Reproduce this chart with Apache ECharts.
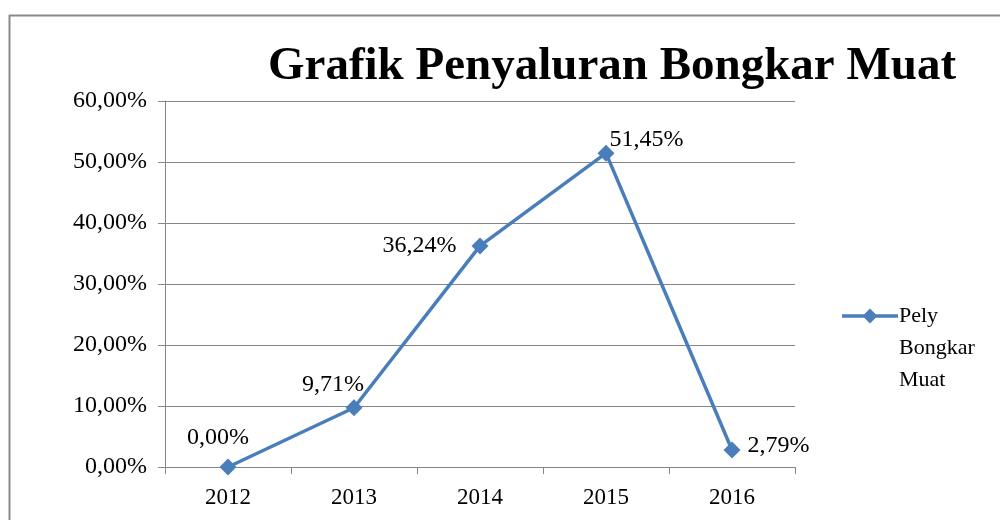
<!DOCTYPE html>
<html><head><meta charset="utf-8">
<script src="https://cdn.jsdelivr.net/npm/echarts@6/dist/echarts.min.js"></script>
<style>html,body{margin:0;padding:0;background:#fff}#c{width:1000px;height:520px}</style>
</head><body><div id="c"></div>
<script>
const categories = ['2012','2013','2014','2015','2016'];
const values = [0, 9.71, 36.24, 51.45, 2.79];
const seriesName = 'Pely\nBongkar\nMuat';
const titleText = 'Grafik Penyaluran Bongkar Muat';
const labelPos = [
  {position:'top', offset:[-10,-4]},
  {position:'top', offset:[-21,2]},
  {position:'left', offset:[-10,0]},
  {position:'right', offset:[-10,-13]},
  {position:'right', offset:[2,-4]}
];
const fmt = v => v.toFixed(2).replace('.', ',') + '%';
const serif = '"Liberation Serif","Times New Roman",serif';
const chart = echarts.init(document.getElementById('c'));
chart.setOption({
  animation:false,
  title:{text:titleText,left:607,top:38,textAlign:'center',
    textStyle:{fontFamily:serif,fontWeight:'bold',fontSize:47,color:'#000'}},
  graphic:[
    {type:'line',shape:{x1:9.5,y1:15,x2:9.5,y2:520},style:{stroke:'#8a8a8a',lineWidth:2}},
    {type:'line',shape:{x1:9,y1:15.5,x2:1000,y2:15.5},style:{stroke:'#8a8a8a',lineWidth:2}}
  ],
  legend:{left:842,top:300,padding:0,orient:'vertical',itemWidth:56,itemHeight:96,itemGap:4,
    symbolKeepAspect:false,
    textStyle:{fontFamily:serif,fontSize:22,color:'#000',lineHeight:32,padding:[0,0,0,-4]},
    data:[{name:seriesName,icon:'path://M0,0 L0.01,0 L0,0.01 Z M0,96 L0.01,96 L0,95.99 Z M0,14.3 L56,14.3 L56,17.7 L0,17.7 Z M28,8.5 L35.5,16 L28,23.5 L20.5,16 Z'}]},
  grid:{left:165,right:205,top:101,bottom:53},
  xAxis:{type:'category',data:categories,boundaryGap:true,
    axisLine:{lineStyle:{color:'#868686',width:1}},
    axisTick:{show:true,length:7,alignWithLabel:false,lineStyle:{color:'#868686'}},
    axisLabel:{fontFamily:serif,fontSize:23,color:'#000',margin:19}},
  yAxis:{type:'value',min:0,max:60,interval:10,
    axisLine:{show:true,lineStyle:{color:'#868686',width:1}},
    axisTick:{show:true,length:7,lineStyle:{color:'#868686'}},
    splitLine:{lineStyle:{color:'#868686',width:1}},
    axisLabel:{fontFamily:serif,fontSize:24,color:'#000',margin:18,formatter:v=>fmt(v)}},
  series:[{name:seriesName,type:'line',data:values.map((v,i)=>({value:v,label:labelPos[i]})),
    symbol:'diamond',symbolSize:17,
    lineStyle:{color:'#4a7ebb',width:3.5},
    itemStyle:{color:'#4a7ebb'},
    label:{show:true,fontFamily:serif,fontSize:24,color:'#000',formatter:p=>fmt(p.value)}}]
});
</script></body></html>
